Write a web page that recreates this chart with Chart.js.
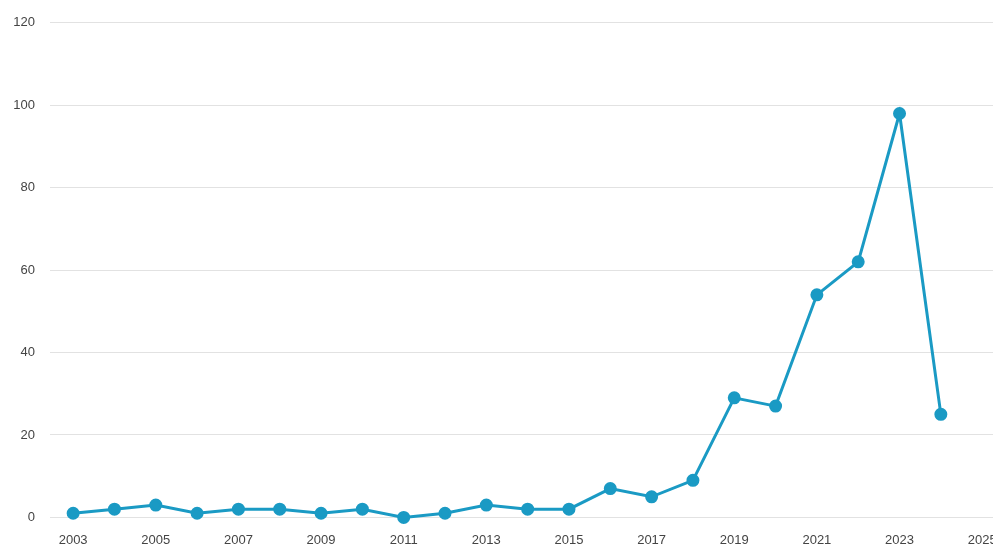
<!DOCTYPE html>
<html>
<head>
<meta charset="utf-8">
<script src="https://cdn.jsdelivr.net/npm/chart.js@4"></script>
<style>
  html, body { margin: 0; padding: 0; background: #fff; overflow: hidden; }
  #wrap { position: relative; width: 1010px; height: 555px; }
</style>
</head>
<body>
<div id="wrap"><canvas id="chart"></canvas></div>
<script>
// counts per year
const years = [2003, 2004, 2005, 2006, 2007, 2008, 2009, 2010, 2011, 2012, 2013, 2014,
               2015, 2016, 2017, 2018, 2019, 2020, 2021, 2022, 2023, 2024];
const counts = [1, 2, 3, 1, 2, 2, 1, 2, 0, 1, 3, 2,
                2, 7, 5, 9, 29, 27, 54, 62, 98, 25];
const xTicks = [2003, 2005, 2007, 2009, 2011, 2013, 2015, 2017, 2019, 2021, 2023, 2025];
const yTicks = [0, 20, 40, 60, 80, 100, 120];

const lineColor = '#1a9ac4';

new Chart(document.getElementById('chart'), {
  type: 'line',
  data: {
    datasets: [{
      data: years.map((y, i) => ({ x: y, y: counts[i] })),
      borderColor: lineColor,
      backgroundColor: lineColor,
      borderWidth: 3,
      pointRadius: 5,
      pointHoverRadius: 5,
      tension: 0,
      clip: false
    }]
  },
  options: {
    responsive: true,
    maintainAspectRatio: false,
    animation: false,
    layout: { padding: { top: 12, left: 0, right: 0, bottom: 0 } },
    plugins: { legend: { display: false }, tooltip: { enabled: false } },
    scales: {
      x: {
        type: 'linear',
        min: 2002.44,
        max: 2025.48,
        afterBuildTicks: axis => { axis.ticks = xTicks.map(v => ({ value: v })); },
        grid: { display: false },
        border: { display: false },
        ticks: {
          color: '#444',
          font: { family: 'Arial, Liberation Sans', size: 13 },
          padding: 7,
          maxRotation: 0,
          autoSkip: false,
          callback: v => String(v)
        }
      },
      y: {
        min: 0,
        max: 120,
        afterBuildTicks: axis => { axis.ticks = yTicks.map(v => ({ value: v })); },
        grid: { color: '#e2e2e2', lineWidth: 1, drawTicks: false },
        border: { display: false },
        afterFit: axis => { axis.width = 50; },
        ticks: {
          color: '#444',
          font: { family: 'Arial, Liberation Sans', size: 13 },
          padding: 15
        }
      }
    }
  }
});
</script>
</body>
</html>
